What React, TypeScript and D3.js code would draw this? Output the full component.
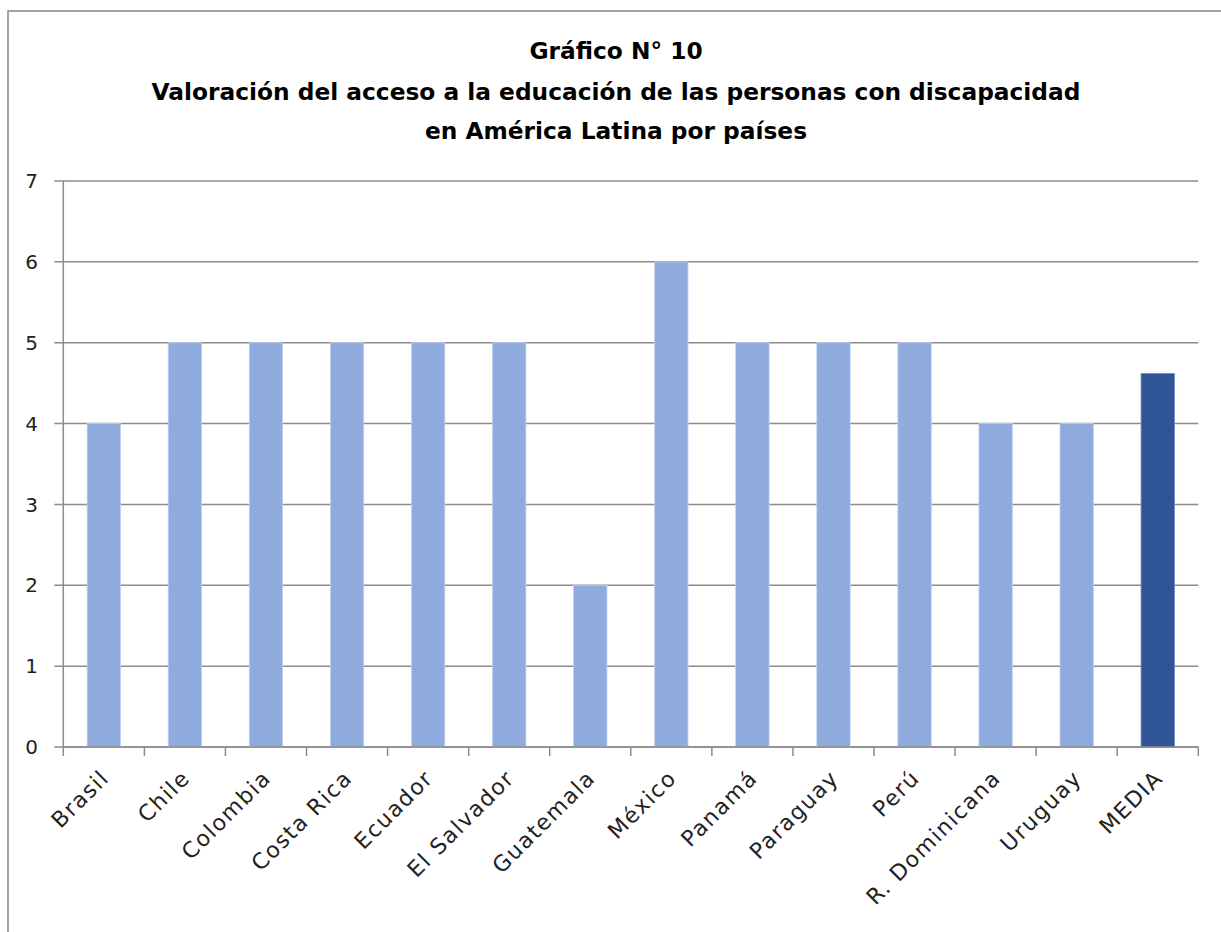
import React from "react";
import * as d3 from "d3";

const categories = [
  "Brasil", "Chile", "Colombia", "Costa Rica", "Ecuador", "El Salvador",
  "Guatemala", "México", "Panamá", "Paraguay", "Perú", "R. Dominicana",
  "Uruguay", "MEDIA",
];
const values = [4, 5, 5, 5, 5, 5, 2, 6, 5, 5, 5, 4, 4, 4.62];
const yTicks = [0, 1, 2, 3, 4, 5, 6, 7];
const titleLines = [
  "Gráfico N° 10",
  "Valoración del acceso a la educación de las personas con discapacidad",
  "en América Latina por países",
];

const W = 1221;
const H = 932;
const left = 63.3;
const right = 1198.3;
const top = 181;
const bottom = 747;

export default function App() {
  const x = d3
    .scaleBand<string>()
    .domain(categories)
    .range([left, right])
    .paddingInner(0.588)
    .paddingOuter(0.294);
  const y = d3.scaleLinear().domain([0, 7]).range([bottom, top]);
  const step = (right - left) / categories.length;
  const gridColor = "#8c8c8c";
  const labelFont = "'DejaVu Sans', sans-serif";

  return (
    <svg
      width={W}
      height={H}
      style={{ position: "absolute", left: 0, top: 0, display: "block" }}
    >
      <rect x={0} y={0} width={W} height={H} fill="#ffffff" />
      <rect
        x={8}
        y={11}
        width={W + 20}
        height={H + 20}
        fill="none"
        stroke={gridColor}
        strokeWidth={1.6}
      />
      {titleLines.map((t, i) => (
        <text
          key={i}
          x={616}
          y={[59, 100, 139][i]}
          textAnchor="middle"
          fontFamily="'DejaVu Sans', sans-serif"
          fontWeight="bold"
          fontSize={23.3}
          fill="#000"
        >
          {t}
        </text>
      ))}
      {yTicks.map((t) => (
        <g key={t}>
          <line
            x1={left - 9}
            x2={right}
            y1={y(t)}
            y2={y(t)}
            stroke={gridColor}
            strokeWidth={1.5}
          />
          <text
            x={38}
            y={y(t)}
            dy="0.36em"
            textAnchor="end"
            fontFamily={labelFont}
            fontSize={20}
            fill="#222"
          >
            {t}
          </text>
        </g>
      ))}
      <line x1={left} x2={left} y1={top} y2={bottom} stroke={gridColor} strokeWidth={1.5} />
      {d3.range(categories.length + 1).map((i) => (
        <line
          key={i}
          x1={left + i * step}
          x2={left + i * step}
          y1={bottom}
          y2={bottom + 9}
          stroke={gridColor}
          strokeWidth={1.5}
        />
      ))}
      {categories.map((c, i) => (
        <rect
          key={c}
          x={x(c)}
          y={y(values[i])}
          width={x.bandwidth()}
          height={y(0) - y(values[i])}
          fill={c === "MEDIA" ? "#2f5597" : "#8faadc"}
          stroke={c === "MEDIA" ? "#6f8cc4" : "#c3d2ee"}
          strokeWidth={0.8}
        />
      ))}
      <line x1={left} x2={right} y1={bottom} y2={bottom} stroke={gridColor} strokeWidth={1.5} />
      {categories.map((c) => {
        const cx = (x(c) as number) + x.bandwidth() / 2 + 1;
        const cy = bottom + 27;
        return (
          <text
            key={c}
            transform={`translate(${cx},${cy}) rotate(-45)`}
            textAnchor="end"
            dy="0.35em"
            fontFamily={labelFont}
            fontSize={22}
            letterSpacing={1.5}
            fill="#222"
          >
            {c}
          </text>
        );
      })}
    </svg>
  );
}
